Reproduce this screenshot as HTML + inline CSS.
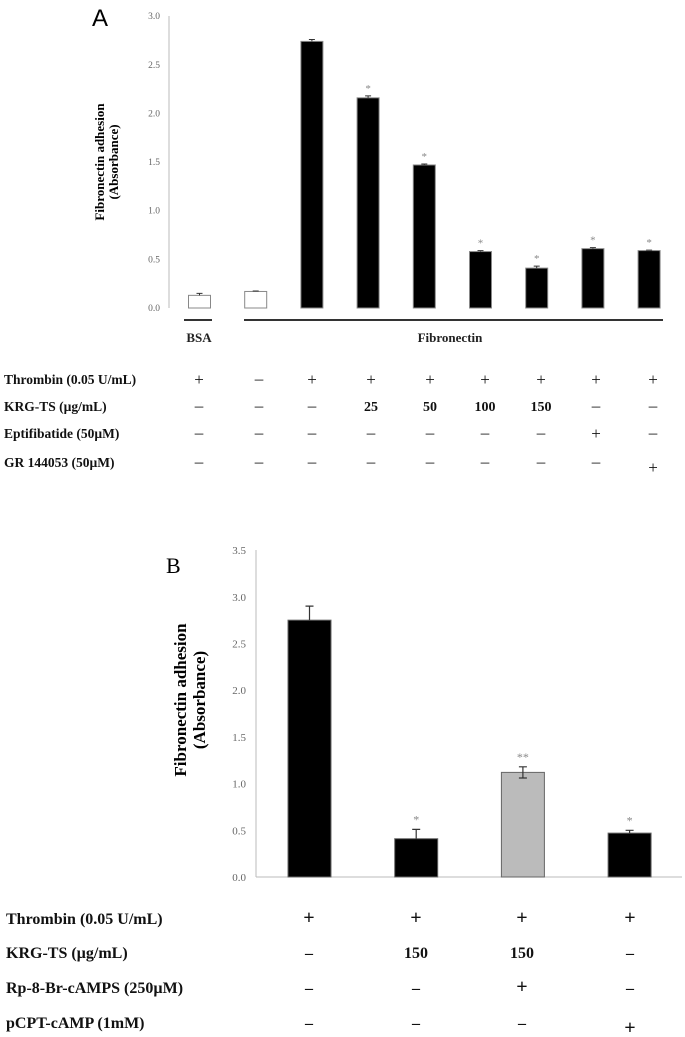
<!DOCTYPE html>
<html><head><meta charset="utf-8"><style>
body{margin:0;background:#fff;width:685px;height:1037px;overflow:hidden}
svg{display:block;font-family:"Liberation Serif",serif}
</style></head><body>
<svg id="chart" width="685" height="1037"></svg>
<script>
const catsA=["BSA","FN","FN+Thr","KRG25","KRG50","KRG100","KRG150","Eptifibatide","GR144053"];
const valsA=[0.13,0.17,2.74,2.16,1.47,0.58,0.41,0.61,0.59];
const errsA=[0.02,0.005,0.02,0.02,0.01,0.01,0.02,0.01,0.005];
const starA=["","","","*","*","*","*","*","*"];
const ticksA=["0.0","0.5","1.0","1.5","2.0","2.5","3.0"];
const catsB=["Thr","KRG150","KRG150+Rp","pCPT"];
const valsB=[2.75,0.41,1.12,0.47];
const errsB=[0.15,0.10,0.06,0.03];
const starB=["","*","**","*"];
const ticksB=["0.0","0.5","1.0","1.5","2.0","2.5","3.0","3.5"];
const rowsA=[["Thrombin (0.05 U/mL)",["+","–","+","+","+","+","+","+","+"]],
["KRG-TS (µg/mL)",["–","–","–","25","50","100","150","–","–"]],
["Eptifibatide (50µM)",["–","–","–","–","–","–","–","+","–"]],
["GR 144053 (50µM)",["–","–","–","–","–","–","–","–","+"]]];
const rowsB=[["Thrombin (0.05 U/mL)",["+","+","+","+"]],
["KRG-TS (µg/mL)",["–","150","150","–"]],
["Rp-8-Br-cAMPS (250µM)",["–","–","+","–"]],
["pCPT-cAMP (1mM)",["–","–","–","+"]]];
const NS="http://www.w3.org/2000/svg";
const svg=document.getElementById('chart');
function el(t,a,txt){const e=document.createElementNS(NS,t);for(const k in a)e.setAttribute(k,a[k]);if(txt!==undefined)e.textContent=txt;svg.appendChild(e);return e;}
// Panel A
const yA=v=>308-v*97.3;const xA=i=>199.5+i*56.2;const bwA=22;
let t=el('text',{x:92,y:26,'font-size':24,fill:'#000','font-family':'Liberation Sans, sans-serif'},'A');


let ax=el('line',{x1:169,y1:16,x2:169,y2:308,stroke:'#bbb','stroke-width':1});


ticksA.forEach((s,i)=>{const v=parseFloat(s);const tk=el('text',{x:160,y:yA(v)+3,'font-size':9.5,fill:'#666','text-anchor':'end'},s);

});
t=el('text',{transform:'translate(104,162) rotate(-90)','font-size':13,'font-weight':'bold','text-anchor':'middle'},'Fibronectin adhesion');


t=el('text',{transform:'translate(118,162) rotate(-90)','font-size':13,'font-weight':'bold','text-anchor':'middle'},'(Absorbance)');


valsA.forEach((v,i)=>{const x=xA(i);const ew=x-bwA/2;
const r=el('rect',{x:ew,y:yA(v),width:bwA,height:308-yA(v),fill:i<2?'#fff':'#000',stroke:'#888','stroke-width':1});


const e=errsA[i];el('path',{d:`M${x},${yA(v)} V${yA(v+e)} M${x-3},${yA(v+e)} H${x+3}`,stroke:'#333','stroke-width':1,fill:'none'});
if(starA[i]){const s=el('text',{x:x,y:yA(v+e)+1-5,'font-size':11,fill:'#888','text-anchor':'middle'},starA[i]);

}});
let l=el('line',{x1:184,y1:320,x2:212,y2:320,stroke:'#333','stroke-width':2});


l=el('line',{x1:244,y1:320,x2:663,y2:320,stroke:'#333','stroke-width':2});


t=el('text',{x:199,y:342,'font-size':13,'font-weight':'bold','text-anchor':'middle',fill:'#222'},'BSA');


t=el('text',{x:450,y:342,'font-size':13,'font-weight':'bold','text-anchor':'middle',fill:'#222'},'Fibronectin');


const rowYA=[384,411,438,467];const colA=[199,259,312,371,430,485,541,596,653];
rowsA.forEach((r,ri)=>{const lt=el('text',{x:4,y:rowYA[ri],'font-size':13.5,fill:'#111','font-weight':'bold'},r[0]);


r[1].forEach((c,ci)=>{const isSym=(c==='+'||c==='–');const ct=el('text',{x:colA[ci],y:rowYA[ri]+(c==='+'&&ri===3?6:(c==='+'?1:0)),'font-size':isSym?17:14,'text-anchor':'middle',fill:'#111','font-weight':isSym?'normal':'bold'},c);

});});
// Panel B
const yB=v=>877-v*93.4;const xB=i=>309.5+i*106.7;const bwB=43;
t=el('text',{x:166,y:573,'font-size':22,fill:'#000'},'B');


ax=el('line',{x1:256,y1:550,x2:256,y2:877,stroke:'#bbb','stroke-width':1});


ax=el('line',{x1:256,y1:877,x2:682,y2:877,stroke:'#bbb','stroke-width':1});


ticksB.forEach(s=>{const v=parseFloat(s);const tk=el('text',{x:246,y:yB(v)+4,'font-size':11,fill:'#666','text-anchor':'end'},s);

});
t=el('text',{transform:'translate(186,700) rotate(-90)','font-size':17,'font-weight':'bold','text-anchor':'middle'},'Fibronectin adhesion');


t=el('text',{transform:'translate(205,700) rotate(-90)','font-size':17,'font-weight':'bold','text-anchor':'middle'},'(Absorbance)');


valsB.forEach((v,i)=>{const x=xB(i);
const r=el('rect',{x:x-bwB/2,y:yB(v),width:bwB,height:877-yB(v),fill:i===2?'#bbb':'#000',stroke:'#666','stroke-width':1});


const e=errsB[i];el('path',{d:`M${x},${yB(v-(i===2?e:0))} V${yB(v+e)} M${x-4},${yB(v+e)} H${x+4}`+(i===2?` M${x-4},${yB(v-e)} H${x+4}`:''),stroke:'#333','stroke-width':1.2,fill:'none'});
if(starB[i]){const s=el('text',{x:x,y:yB(v+e)-6,'font-size':12,fill:'#888','text-anchor':'middle'},starB[i]);

}});
const rowYB=[924,958,993,1028];const colB=[309,416,522,630];
rowsB.forEach((r,ri)=>{const lt=el('text',{x:6,y:rowYB[ri],'font-size':16,fill:'#111','font-weight':'bold'},r[0]);


r[1].forEach((c,ci)=>{const ct=el('text',{x:colB[ci],y:rowYB[ri]+(c==='+'&&ri===3?6:0),'font-size':c==='+'?20:16,'text-anchor':'middle',fill:'#111','font-weight':'bold'},c);

});});
</script>
</body></html>
